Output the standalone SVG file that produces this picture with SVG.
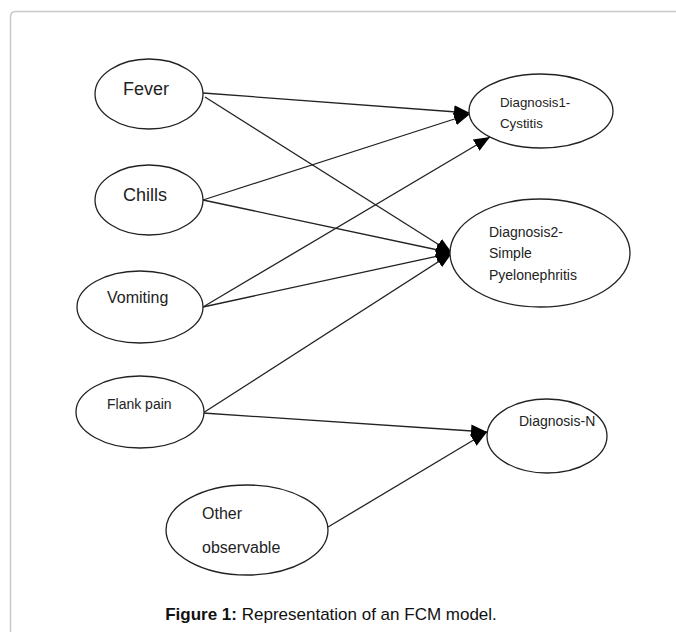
<svg xmlns="http://www.w3.org/2000/svg" width="676" height="632" viewBox="0 0 676 632">
<style>
.node ellipse{fill:#fff;stroke:#222;stroke-width:1.3}
.node text{font-family:"Liberation Sans",Arial,sans-serif;fill:#222}
.edges line{stroke:#222;stroke-width:1.3}
.cap{font-family:"Liberation Sans",Arial,sans-serif;font-size:17px;fill:#111}
</style>
<defs>
<marker id="arr" markerUnits="userSpaceOnUse" markerWidth="16" markerHeight="13" refX="16" refY="6.5" orient="auto">
<path d="M0,0 L16,6.5 L0,13 z" fill="#000"/>
</marker>
</defs>
<rect width="676" height="632" fill="#fff"/>
<path d="M10.5,632 L10.5,17 Q10.5,11.5 16,11.5 L676,11.5" fill="none" stroke="#c8c8c8" stroke-width="1.5"/>
<g class="edges">
<line x1="203" y1="93" x2="470" y2="113" marker-end="url(#arr)"/>
<line x1="205" y1="97" x2="452" y2="253" marker-end="url(#arr)"/>
<line x1="203" y1="200" x2="470" y2="114" marker-end="url(#arr)"/>
<line x1="203" y1="200" x2="452" y2="253" marker-end="url(#arr)"/>
<line x1="203" y1="307" x2="490" y2="137" marker-end="url(#arr)"/>
<line x1="203" y1="307" x2="452" y2="253" marker-end="url(#arr)"/>
<line x1="203" y1="413" x2="452" y2="253" marker-end="url(#arr)"/>
<line x1="203" y1="413" x2="487" y2="432" marker-end="url(#arr)"/>
<line x1="328" y1="527" x2="487" y2="432" marker-end="url(#arr)"/>
</g>
<g id="fever" class="node"><ellipse cx="149" cy="94" rx="54" ry="35"/><text x="123" y="95" font-size="18">Fever</text></g>
<g id="chills" class="node"><ellipse cx="149" cy="200" rx="54" ry="35"/><text x="123" y="201" font-size="18">Chills</text></g>
<g id="vomiting" class="node"><ellipse cx="140" cy="307" rx="63" ry="36"/><text x="107" y="303" font-size="16">Vomiting</text></g>
<g id="flank" class="node"><ellipse cx="140" cy="412" rx="64" ry="36"/><text x="107" y="409" font-size="14">Flank pain</text></g>
<g id="other" class="node"><ellipse cx="247" cy="530" rx="81" ry="45"/><text x="202" y="519" font-size="16">Other</text><text x="202" y="553" font-size="16">observable</text></g>
<g id="diag1" class="node"><ellipse cx="541" cy="111" rx="72" ry="37"/><text x="500" y="107" font-size="13.3">Diagnosis1-</text><text x="500" y="128" font-size="13.3">Cystitis</text></g>
<g id="diag2" class="node"><ellipse cx="540" cy="253" rx="90" ry="54"/><text x="489" y="237" font-size="14">Diagnosis2-</text><text x="489" y="258" font-size="14">Simple</text><text x="489" y="280" font-size="14">Pyelonephritis</text></g>
<g id="diagN" class="node"><ellipse cx="547" cy="436" rx="60" ry="37"/><text x="519" y="426" font-size="14">Diagnosis-N</text></g>
<text class="cap" x="331" y="620" text-anchor="middle"><tspan font-weight="bold">Figure 1:</tspan> Representation of an FCM model.</text>
</svg>
